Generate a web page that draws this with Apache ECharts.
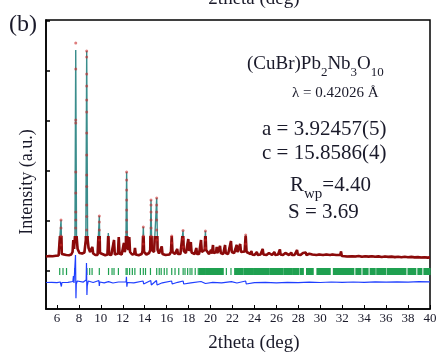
<!DOCTYPE html>
<html><head><meta charset="utf-8">
<script src="https://cdn.jsdelivr.net/npm/echarts@6/dist/echarts.min.js"></script>
<style>html,body{margin:0;padding:0;background:#fff}#c{width:440px;height:354px}</style>
</head><body><div id="c"></div>
<script>
// ---- data (2theta in deg, intensity in arbitrary units) ----
const xTickLabels = [6,8,10,12,14,16,18,20,22,24,26,28,30,32,34,36,38,40];
const yTickValues = [0,1000,2000,3000,4000,5000];

// observed / calculated profile [2theta, intensity]
const profile = [
[5.00,290],[5.3,300],[5.6,296],[5.9,304],[6.15,310],[6.30,340],[6.37,1020],[6.44,340],[6.6,310],[6.85,320],[7.1,316],[7.3,330],[7.42,380],[7.49,620],[7.56,440],[7.64,700],[7.71,4420],[7.78,720],[7.88,440],[8.05,360],[8.3,350],[8.5,370],[8.63,620],[8.71,4400],[8.79,640],[8.88,460],[8.95,500],[9.02,380],[9.14,380],[9.22,480],[9.30,350],[9.5,320],[9.7,320],[9.80,360],[9.86,1100],[9.92,360],[10.1,320],[10.4,316],[10.6,330],[10.68,760],[10.75,330],[10.95,320],[11.12,340],[11.20,620],[11.27,330],[11.45,330],[11.56,350],[11.63,680],[11.70,350],[11.9,330],[12.04,360],[12.10,560],[12.18,380],[12.28,480],[12.35,1980],[12.42,500],[12.52,420],[12.59,680],[12.66,380],[12.85,330],[13.04,340],[13.11,460],[13.18,330],[13.45,316],[13.72,340],[13.80,400],[13.87,880],[13.94,380],[14.15,330],[14.40,360],[14.50,420],[14.57,1420],[14.64,420],[14.85,380],[15.00,420],[15.09,1460],[15.17,420],[15.30,350],[15.48,340],[15.55,490],[15.62,340],[15.9,320],[16.25,330],[16.39,380],[16.46,700],[16.53,380],[16.75,340],[16.90,350],[16.96,440],[17.02,340],[17.25,340],[17.42,380],[17.49,810],[17.56,400],[17.75,360],[17.90,380],[17.97,640],[18.04,400],[18.13,420],[18.20,580],[18.27,370],[18.55,340],[18.65,360],[18.70,460],[18.76,340],[18.95,340],[19.07,380],[19.13,620],[19.20,380],[19.38,380],[19.46,420],[19.53,800],[19.60,420],[19.85,340],[19.98,350],[20.05,420],[20.12,350],[20.17,380],[20.22,520],[20.28,360],[20.45,360],[20.51,380],[20.56,480],[20.62,360],[20.78,360],[20.86,500],[20.93,360],[21.15,340],[21.26,370],[21.32,520],[21.38,360],[21.6,340],[21.78,380],[21.86,600],[21.93,380],[22.15,360],[22.30,380],[22.38,520],[22.45,380],[22.60,380],[22.70,540],[22.77,380],[22.95,360],[23.10,390],[23.20,720],[23.28,380],[23.45,340],[23.65,340],[23.72,400],[23.79,330],[24.0,320],[24.15,330],[24.22,380],[24.29,320],[24.55,330],[24.68,360],[24.75,440],[24.82,330],[25.1,320],[25.25,330],[25.32,360],[25.39,320],[25.6,320],[25.75,330],[25.82,380],[25.89,320],[26.15,330],[26.26,360],[26.32,430],[26.38,330],[26.6,320],[26.76,330],[26.82,360],[26.88,320],[27.15,320],[27.28,330],[27.35,370],[27.42,320],[27.65,320],[27.80,340],[27.88,420],[27.95,330],[28.2,320],[28.35,330],[28.42,360],[28.5,320],[28.6,330],[28.67,370],[28.74,320],[28.9,320],[29.0,345],[29.08,320],[29.27,330],[29.34,370],[29.41,320],[29.65,320],[29.90,330],[29.97,370],[30.05,320],[30.25,320],[30.32,350],[30.4,320],[30.55,330],[30.61,360],[30.68,320],[30.9,320],[31.1,330],[31.16,360],[31.23,320],[31.45,320],[31.52,345],[31.6,310],[31.82,320],[31.89,390],[31.96,300],[32.2,296],[32.32,320],[32.45,290],[32.9,296],[33.2,290],[33.5,300],[33.8,286],[34.1,294],[34.4,288],[34.7,296],[35.0,284],[35.3,292],[35.6,280],[35.9,290],[36.2,282],[36.5,288],[36.8,278],[37.1,286],[37.4,276],[37.7,284],[38.0,274],[38.3,282],[38.6,272],[38.9,278],[39.2,270],[39.5,276],[39.8,268],[40.0,272]
];

// observed data points visible on the peak flanks
const obsPoints = [
[7.71,4560],[7.71,4040],[7.71,3020],[7.71,2960],[7.71,1980],[7.71,1560],[7.71,1180],[7.71,1020],[7.70,860],
[8.71,4400],[8.71,4280],[8.71,3940],[8.71,3700],[8.71,3420],[8.71,3180],[8.71,2760],[8.71,2320],[8.71,1920],[8.71,1690],[8.71,1320],[8.71,1090],[8.71,820],
[12.35,1980],[12.35,1820],[12.35,1620],[12.35,1420],[12.35,1220],[12.35,1020],[12.35,780],
[14.57,1420],[14.57,1320],[14.57,1180],[14.57,1020],[14.57,860],[14.57,700],
[15.09,1460],[15.09,1320],[15.09,1180],[15.09,1020],[15.09,820],[15.09,620],
[9.86,1100],[9.86,980],[9.86,820],[9.86,620],
[6.37,1020],[6.37,860],[6.37,700],[6.37,520],
[13.87,880],[13.87,700],[13.87,540],
[16.46,700],[16.46,560],[17.49,810],[17.49,640],[17.49,480],[19.53,800],[19.53,620],[19.53,460],[23.2,720],[23.2,540]
];

// difference curve (obs - calc, offset)
const diffCurve = [
[5.0,-230],[5.5,-226],[6.0,-234],[6.3,-220],[6.35,-180],[6.40,-310],[6.45,-230],[7.0,-226],[7.45,-210],[7.50,-100],[7.55,-240],[7.66,-200],[7.69,320],[7.73,-546],[7.76,-260],[7.85,-200],[8.0,-236],[8.4,-222],[8.66,-180],[8.69,160],[8.73,-480],[8.76,-300],[8.85,-200],[9.0,-240],[9.3,-230],[9.82,-190],[9.86,-300],[9.9,-220],[10.3,-236],[10.7,-214],[11.1,-240],[11.6,-220],[12.3,-220],[12.33,-114],[12.37,-314],[12.42,-230],[13.0,-236],[13.85,-200],[13.9,-260],[14.55,-190],[14.6,-280],[15.07,-190],[15.12,-280],[15.6,-236],[16.45,-200],[16.5,-260],[17.0,-226],[17.5,-200],[17.55,-260],[18.2,-236],[19.13,-210],[19.53,-250],[20.2,-226],[21.0,-236],[21.9,-214],[22.4,-240],[23.2,-200],[23.25,-260],[24.0,-232],[25.0,-226],[26.0,-236],[27.0,-228],[28.0,-234],[29.0,-222],[30.0,-230],[31.0,-220],[32.0,-228],[33.0,-220],[34.0,-226],[35.0,-218],[36.0,-224],[37.0,-216],[38.0,-222],[39.0,-214],[40.0,-218]
];

// Bragg reflection positions: isolated ones and groups that merge into bands
const reflSingles = [6.25,6.55,6.87,7.62,8.73,8.98,9.2,9.86,10.7,11.02,11.2,11.6,12.3,12.4,12.62,12.87,13.1,13.6,13.87,14.07,14.52,15.09,15.32,15.5,15.78,16.02,16.46,16.76,17.1,17.5,17.67,17.91,18.13,18.3,18.6,18.88,21.44,21.86];
const reflBands = [[19.0,19.45],[19.55,20.0],[20.08,20.62],[20.7,21.15],[22.2,22.95],[23.05,23.9],[24.0,25.3],[25.4,26.6],[26.7,27.45],[27.55,28.05],[28.2,28.45],[28.75,29.35],[29.7,30.9],[31.2,33.05],[33.25,33.7],[33.9,34.35],[34.55,35.0],[35.15,35.95],[36.1,37.8],[38.0,38.7],[38.9,39.25],[39.45,40.0]];

// ---- chart ----
const FONT = '"Liberation Serif","Times New Roman",serif';
const TXT = '#1a1a2a';
const RED = '#8b0a0a', TEAL = '#3a8d8c', BLUE = '#1f3fff', GREEN = '#1fa050';
const THRESH = 700;
const Y_MIN = -760, Y_MAX = 5020;
const tickTop = 60, tickBottom = -80;

const reflData = reflSingles.map(v => [v, v]).concat(reflBands);

const chart = echarts.init(document.getElementById('c'), null, {renderer: 'canvas'});
chart.setOption({
  animation: false,
  backgroundColor: '#fff',
  grid: {left: 46, right: 10, top: 20, bottom: 45, show: true, borderColor: '#000', borderWidth: 1.5, backgroundColor: 'transparent'},
  xAxis: {
    type: 'value', min: 5, max: 40,
    axisLine: {show: true, onZero: false, lineStyle: {color: '#000', width: 1.5}},
    axisTick: {show: true, inside: true, length: 4, customValues: xTickLabels, lineStyle: {color: '#000'}},
    axisLabel: {show: true, customValues: xTickLabels, fontFamily: FONT, fontSize: 13, color: TXT, margin: 3},
    splitLine: {show: false}
  },
  yAxis: {
    type: 'value', min: Y_MIN, max: Y_MAX,
    axisLine: {show: true, onZero: false, lineStyle: {color: '#000', width: 1.5}},
    axisTick: {show: true, inside: true, length: 4, customValues: yTickValues, lineStyle: {color: '#000', width: 1.5}},
    axisLabel: {show: false},
    splitLine: {show: false}
  },
  visualMap: [
    {show: false, type: 'piecewise', seriesIndex: 0, dimension: 1,
     pieces: [{gte: Y_MIN, lt: THRESH, color: RED}, {gte: THRESH, lte: Y_MAX, color: 'rgba(139,10,10,0)'}]},
    {show: false, type: 'piecewise', seriesIndex: 1, dimension: 1,
     pieces: [{gte: Y_MIN, lt: THRESH, color: RED}, {gte: THRESH, lte: Y_MAX, color: TEAL}]}
  ],
  series: [
    {name: 'obs', type: 'line', data: profile, showSymbol: false, lineStyle: {width: 2.6}, z: 2},
    {name: 'calc', type: 'line', data: profile, showSymbol: false, lineStyle: {width: 1.4}, z: 3},
    {name: 'obsPts', type: 'scatter', data: obsPoints, symbol: 'circle', symbolSize: 3,
     itemStyle: {color: 'rgba(200,40,40,0.75)'}, z: 4},
    {name: 'diff', type: 'line', data: diffCurve, showSymbol: false, lineStyle: {width: 1.2, color: BLUE}, itemStyle: {color: BLUE}, z: 2},
    {name: 'bragg', type: 'custom', coordinateSystem: 'cartesian2d', data: reflData, z: 2,
     renderItem: function (params, api) {
       const a = api.coord([api.value(0), tickTop]);
       const b = api.coord([api.value(1), tickBottom]);
       return {type: 'rect', shape: {x: a[0] - 0.6, y: a[1], width: Math.max(b[0] - a[0], 0) + 1.2, height: b[1] - a[1]},
               style: {fill: GREEN}};
     }}
  ],
  graphic: [
    {type: 'text', x: 254, y: -1, style: {text: '2theta (deg)', font: '19px ' + FONT, fill: TXT, align: 'center', verticalAlign: 'middle'}},
    {type: 'text', x: 254, y: 343, style: {text: '2theta (deg)', font: '19px ' + FONT, fill: TXT, align: 'center', verticalAlign: 'middle'}},
    {type: 'text', x: 9, y: 25, style: {text: '(b)', font: '24px ' + FONT, fill: TXT, align: 'left', verticalAlign: 'middle'}},
    {type: 'text', x: 27, y: 182, rotation: Math.PI / 2, style: {text: 'Intensity (a.u.)', font: '18px ' + FONT, fill: TXT, align: 'center', verticalAlign: 'middle'}},
    {type: 'text', x: 247, y: 67, style: {
      text: '{n|(CuBr)Pb}{s|2}{n|Nb}{s|3}{n|O}{s|10}', verticalAlign: 'middle', align: 'left',
      rich: {n: {fontFamily: FONT, fontSize: 19, fill: TXT, padding: [0,0,5,0], verticalAlign: 'bottom'},
             s: {fontFamily: FONT, fontSize: 13, fill: TXT, verticalAlign: 'bottom'}}}},
    {type: 'text', x: 292, y: 93, style: {text: 'λ = 0.42026 Å', font: '15px ' + FONT, fill: TXT, align: 'left', verticalAlign: 'middle'}},
    {type: 'text', x: 262, y: 129, style: {text: 'a = 3.92457(5)', font: '21px ' + FONT, fill: TXT, align: 'left', verticalAlign: 'middle'}},
    {type: 'text', x: 262, y: 153, style: {text: 'c = 15.8586(4)', font: '21px ' + FONT, fill: TXT, align: 'left', verticalAlign: 'middle'}},
    {type: 'text', x: 290, y: 188, style: {
      text: '{n|R}{s|wp}{n|=4.40}', verticalAlign: 'middle', align: 'left',
      rich: {n: {fontFamily: FONT, fontSize: 21, fill: TXT, padding: [0,0,6,0], verticalAlign: 'bottom'},
             s: {fontFamily: FONT, fontSize: 15, fill: TXT, verticalAlign: 'bottom'}}}},
    {type: 'text', x: 288, y: 212, style: {text: 'S = 3.69', font: '21px ' + FONT, fill: TXT, align: 'left', verticalAlign: 'middle'}}
  ]
});
</script></body></html>
